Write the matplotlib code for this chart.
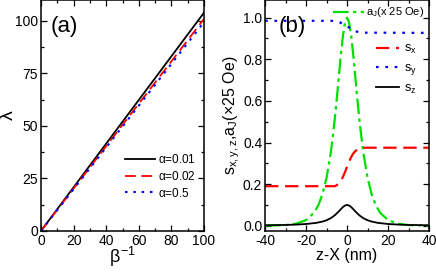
import matplotlib
matplotlib.use("Agg")
import matplotlib.pyplot as plt
from matplotlib.ticker import MultipleLocator, FormatStrFormatter

plt.rcParams['font.family'] = ['Liberation Sans', 'DejaVu Sans']
plt.rcParams['mathtext.fontset'] = 'custom'
plt.rcParams['mathtext.rm'] = 'Liberation Sans'
plt.rcParams['mathtext.it'] = 'Liberation Sans'
plt.rcParams['axes.unicode_minus'] = False

# ---- panel (a) data ----
beta_inv = [0, 20, 40, 60, 80, 100]
lam_001 = [0, 20.8, 41.6, 62.4, 83.2, 104.0]
lam_002 = [0, 20.2, 40.4, 60.6, 80.8, 101.0]
lam_05 = [0, 19.9, 39.8, 59.7, 79.6, 99.5]
labels_a = [r'$\alpha$=0.01', r'$\alpha$=0.02', r'$\alpha$=0.5']

# ---- panel (b) data ----
z_aj = [-40, -30, -25, -20, -16, -14, -12, -10, -8, -7, -6, -5, -4, -3, -2, -1, 0,
        1, 2, 3, 4, 5, 6, 7, 8, 10, 12, 14, 16, 20, 25, 30, 40]
aj = [0.0004, 0.0032, 0.0094, 0.027, 0.064, 0.099, 0.151, 0.231, 0.347, 0.426, 0.513,
      0.611, 0.718, 0.824, 0.914, 0.977, 1.0,
      0.977, 0.914, 0.824, 0.718, 0.611, 0.513, 0.426, 0.347, 0.231, 0.151, 0.099,
      0.064, 0.027, 0.0094, 0.0032, 0.0004]

z_sx = [-40, -8, -6, -5, -4, -3, -2, -1, 0, 1, 2, 3, 4, 5, 6, 8, 40]
sx = [0.19, 0.19, 0.19, 0.195, 0.203, 0.215, 0.235, 0.258, 0.283, 0.308, 0.33, 0.347,
      0.358, 0.366, 0.371, 0.375, 0.375]

z_sy = [-40, -6, -4, -2, 0, 2, 4, 6, 8, 40]
sy = [0.985, 0.985, 0.98, 0.97, 0.96, 0.945, 0.935, 0.93, 0.928, 0.927]

z_sz = [-40, -30, -25, -20, -15, -12, -10, -8, -6, -4, -3, -2, -1, 0,
        1, 2, 3, 4, 6, 8, 10, 12, 15, 20, 25, 30, 40]
sz = [0.0022, 0.0038, 0.0055, 0.0083, 0.0138, 0.02, 0.0265, 0.036, 0.05, 0.069, 0.08,
      0.09, 0.097, 0.1, 0.097, 0.09, 0.08, 0.069, 0.05, 0.036, 0.0265, 0.02, 0.0138,
      0.0083, 0.0055, 0.0038, 0.0022]

fig = plt.figure(figsize=(4.36, 2.72), dpi=100)
axa = fig.add_axes([0.094, 0.151, 0.374, 0.849])
axb = fig.add_axes([0.608, 0.151, 0.376, 0.849])

tick_fs = 10
for ax in (axa, axb):
    ax.tick_params(which='both', direction='in', top=True, right=True, labelsize=tick_fs,
                   width=0.9, pad=2)
    ax.tick_params(which='major', length=4)
    ax.tick_params(which='minor', length=2.5)
    for s in ax.spines.values():
        s.set_linewidth(1.1)

# panel (a)
axa.plot(beta_inv, lam_001, color='black', lw=1.3, label=labels_a[0])
axa.plot(beta_inv, lam_002, color='red', lw=1.3, dashes=(6, 3), label=labels_a[1])
axa.plot(beta_inv, lam_05, color='blue', lw=1.5, dashes=(1.2, 2.8), label=labels_a[2])
axa.set_xlim(0, 100)
axa.set_ylim(0, 110)
axa.xaxis.set_major_locator(MultipleLocator(20))
axa.xaxis.set_minor_locator(MultipleLocator(10))
axa.yaxis.set_major_locator(MultipleLocator(25))
axa.yaxis.set_minor_locator(MultipleLocator(12.5))
axa.set_xlabel(r'$\beta^{-1}$', fontsize=13, labelpad=-2)
axa.set_ylabel(r'$\lambda$', fontsize=14)
axa.yaxis.set_label_coords(-0.145, 0.5)
axa.text(0.06, 0.93, '(a)', transform=axa.transAxes, fontsize=16, va='top', ha='left')
axa.legend(loc='lower right', bbox_to_anchor=(1.0, 0.1), frameon=False, fontsize=8.5,
           handlelength=2.6, handletextpad=0.2, labelspacing=0.3, borderpad=0.2)

# panel (b)
l_aj, = axb.plot(z_aj, aj, color='#00e000', lw=1.6, dashes=(7, 2, 1.5, 2),
                 label=r'a$_J$(x 25 Oe)')
l_sx, = axb.plot(z_sx, sx, color='red', lw=1.6, dashes=(6, 3), label=r's$_x$')
l_sy, = axb.plot(z_sy, sy, color='blue', lw=1.6, dashes=(1.2, 3), label=r's$_y$')
l_sz, = axb.plot(z_sz, sz, color='black', lw=1.3, label=r's$_z$')
axb.set_xlim(-40, 40)
axb.set_ylim(-0.025, 1.085)
axb.xaxis.set_major_locator(MultipleLocator(20))
axb.xaxis.set_minor_locator(MultipleLocator(10))
axb.yaxis.set_major_locator(MultipleLocator(0.2))
axb.yaxis.set_minor_locator(MultipleLocator(0.1))
axb.yaxis.set_major_formatter(FormatStrFormatter('%.1f'))
axb.set_xlabel('z-X (nm)', fontsize=11.5, labelpad=0)
axb.set_ylabel(r's$_\mathregular{x,y,z}$,a$_\mathregular{J}$(×25 Oe)', fontsize=11.5)
axb.yaxis.set_label_coords(-0.14, 0.5)
axb.text(0.08, 0.93, '(b)', transform=axb.transAxes, fontsize=16, va='top', ha='left')
leg1 = axb.legend(handles=[l_aj], loc='upper right', bbox_to_anchor=(1.02, 1.01),
                  frameon=False, fontsize=8, handlelength=2.8, handletextpad=0.2,
                  borderpad=0.2)
axb.add_artist(leg1)
axb.legend(handles=[l_sx, l_sy, l_sz], loc='upper right', bbox_to_anchor=(0.98, 0.85),
           frameon=False, fontsize=9, handlelength=1.9, handletextpad=0.4,
           labelspacing=0.45, borderpad=0.2)

fig.savefig('out.png', dpi=100)
